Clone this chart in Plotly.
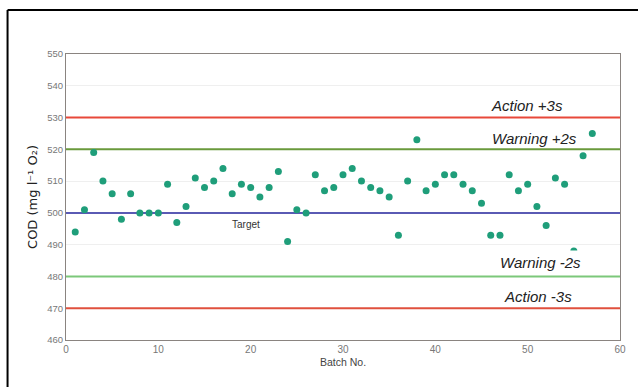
import plotly.graph_objects as go

batch = list(range(1, 58))
cod = [494, 501, 519, 510, 506, 498, 506, 500, 500, 500,
       509, 497, 502, 511, 508, 510, 514, 506, 509, 508,
       505, 508, 513, 491, 501, 500, 512, 507, 508, 512,
       514, 510, 508, 507, 505, 493, 510, 523, 507, 509,
       512, 512, 509, 507, 503, 493, 493, 512, 507, 509,
       502, 496, 511, 509, 488, 518, 525]

limit_names = ["Action +3s", "Warning +2s", "Target", "Warning -2s", "Action -3s"]
limit_values = [530, 520, 500, 480, 470]
limit_colors = ["#e8483a", "#6a9a3c", "#5a5ab4", "#7cc87a", "#e0503e"]
x_range = [0, 60]
y_range = [460, 550]

fig = go.Figure()

for name, val, col in zip(limit_names, limit_values, limit_colors):
    fig.add_trace(go.Scatter(x=x_range, y=[val, val], mode="lines",
                             line=dict(color=col, width=2), hoverinfo="skip",
                             showlegend=False))

fig.add_trace(go.Scatter(x=batch, y=cod, mode="markers",
                         marker=dict(color="#1f9e7a", size=7),
                         showlegend=False))

label_pos = {"Action +3s": (49.9, 533.9), "Warning +2s": (50.7, 523.5),
             "Warning -2s": (51.4, 484.3), "Action -3s": (51.1, 473.8)}
for name, val in zip(limit_names, limit_values):
    if name == "Target":
        fig.add_annotation(x=19.5, y=496.3, text="Target", showarrow=False,
                           font=dict(family="Liberation Sans", size=10, color="#333333"))
    else:
        px, py = label_pos[name]
        covers = name == "Warning -2s"
        fig.add_annotation(x=px, y=py, text=name, showarrow=False,
                           bgcolor="white" if covers else "rgba(0,0,0,0)",
                           borderpad=3 if covers else 0,
                           font=dict(family="Liberation Sans", size=15,
                                     color="#222222", style="italic"))

# outer frame (top and left edges)
fig.add_shape(type="line", xref="paper", yref="paper", x0=-0.1055, x1=1.05,
              y0=1.1538, y1=1.1538, line=dict(color="black", width=2))
fig.add_shape(type="line", xref="paper", yref="paper", x0=-0.1055, x1=-0.1055,
              y0=-0.2, y1=1.1538, line=dict(color="black", width=2))

fig.update_layout(
    width=638, height=387,
    margin=dict(l=66, r=13, t=54, b=47),
    paper_bgcolor="white", plot_bgcolor="white",
    font=dict(family="Liberation Sans"),
)
fig.update_xaxes(range=x_range, dtick=10, showgrid=False, zeroline=False,
                 showline=True, linecolor="#8a8480", mirror=True, linewidth=1,
                 ticks="", tickfont=dict(size=10, color="#777777"),
                 title=dict(text="Batch No.", font=dict(size=10.5, color="#444444"), standoff=4))
fig.update_yaxes(range=y_range, dtick=10, showgrid=True, gridcolor="#efefef",
                 zeroline=False, showline=True, linecolor="#8a8480", mirror=True,
                 linewidth=1, ticks="", tickfont=dict(size=9.5, color="#777777"),
                 title=dict(text="COD (mg l\u207b\u00b9 O\u2082)",
                            font=dict(family="DejaVu Sans", size=13, color="#222222"),
                            standoff=6))

fig.write_html("out.html", config={"displayModeBar": False},
               post_script="document.body.style.margin='0';document.body.style.overflow='hidden';")
